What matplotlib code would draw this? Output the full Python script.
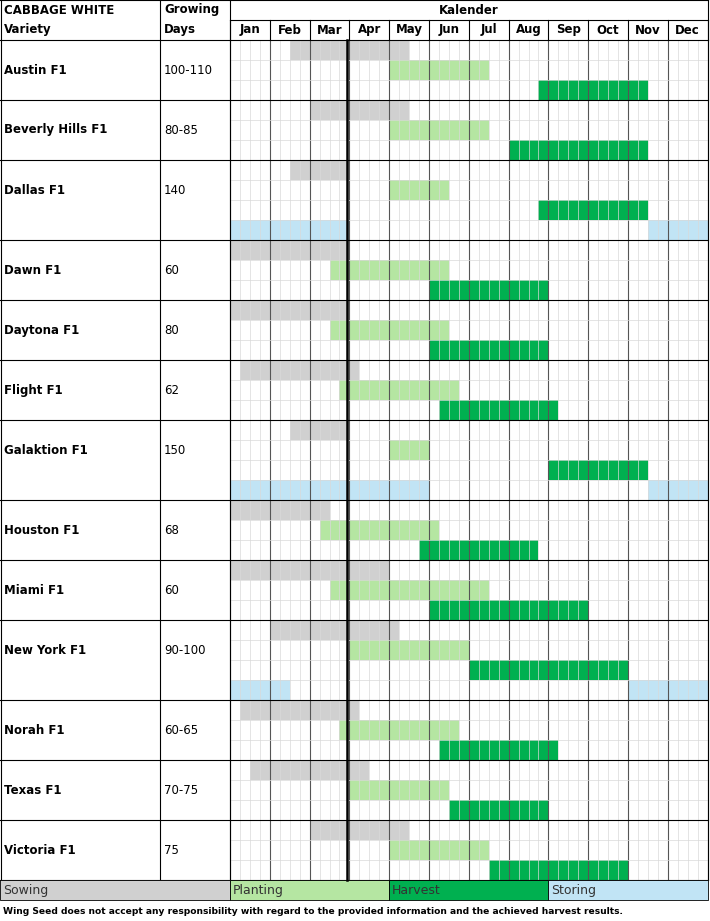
import matplotlib
matplotlib.use("Agg")
import matplotlib.pyplot as plt
from matplotlib.patches import Rectangle

months = ["Jan","Feb","Mar","Apr","May","Jun","Jul","Aug","Sep","Oct","Nov","Dec"]
varieties = ["Austin F1","Beverly Hills F1","Dallas F1","Dawn F1","Daytona F1","Flight F1",
             "Galaktion F1","Houston F1","Miami F1","New York F1","Norah F1","Texas F1","Victoria F1"]
growing_days = ["100-110","80-85","140","60","80","62","150","68","60","90-100","60-65","70-75","75"]
# week indices (0..48), [start, end)
sowing   = [(6,18),(8,18),(6,12),(0,12),(0,12),(1,13),(6,12),(0,10),(0,16),(4,17),(1,13),(2,14),(8,18)]
planting = [(16,26),(16,26),(16,22),(10,22),(10,22),(11,23),(16,20),(9,21),(10,26),(12,24),(11,23),(12,22),(16,26)]
harvest  = [(31,42),(28,42),(31,42),(20,32),(20,32),(21,33),(32,42),(19,31),(20,36),(24,40),(21,33),(22,32),(26,40)]
storing  = [[],[],[(0,12),(42,48)],[],[],[],[(0,20),(42,48)],[],[],[(0,6),(40,48)],[],[],[]]

C_SOW, C_PLANT, C_HARV, C_STORE = "#d0d0d0", "#b5e6a2", "#00b050", "#c1e4f5"

W, H = 710, 921
fig = plt.figure(figsize=(W/100, H/100), dpi=100)
ax = fig.add_axes([0, 0, 1, 1])
ax.set_xlim(0, W); ax.set_ylim(H, 0); ax.axis("off")

X0, WK = 230, 9.95
RH = 20
def wx(w): return X0 + w*WK
XEND = wx(48)

# row layout
tops = []
y = 40
for s in storing:
    tops.append(y)
    y += RH*(4 if s else 3)
body_end = y  # 880

def bar(w0, w1, y0, color):
    ax.add_patch(Rectangle((wx(w0), y0), wx(w1)-wx(w0), RH, fc=color, ec="none", zorder=1))

for i in range(len(varieties)):
    t = tops[i]
    bar(*sowing[i], t, C_SOW)
    bar(*planting[i], t+RH, C_PLANT)
    bar(*harvest[i], t+2*RH, C_HARV)
    for s in storing[i]:
        bar(*s, t+3*RH, C_STORE)
    ax.text(4, t+RH*1.5, varieties[i], fontsize=8.5, fontweight="bold", va="center", ha="left")
    ax.text(164, t+RH*1.5, growing_days[i], fontsize=8.5, va="center", ha="left")

# grid: week lines
for w in range(49):
    lw, c = (0.5, "#d9d9d9") if w % 4 else (0.8, "#555555")
    ax.plot([wx(w), wx(w)], [40, body_end], color=c, lw=lw, zorder=2)
# month header lines
for m in range(13):
    ax.plot([wx(4*m), wx(4*m)], [20, 40], color="black", lw=0.8, zorder=3)
# horizontal sub-row lines
for i, t in enumerate(tops):
    n = 4 if storing[i] else 3
    for k in range(1, n):
        ax.plot([X0, XEND], [t+k*RH]*2, color="#d9d9d9", lw=0.5, zorder=2)
    ax.plot([0, XEND], [t, t], color="black", lw=0.8, zorder=3)
ax.plot([0, XEND], [body_end]*2, color="black", lw=0.8, zorder=3)
ax.plot([X0, XEND], [20, 20], color="black", lw=0.8, zorder=3)
ax.plot([0, XEND], [0.5, 0.5], color="black", lw=0.8, zorder=3)
for x in [0.5, 160, X0, XEND]:
    ax.plot([x, x], [0, body_end], color="black", lw=0.8, zorder=3)
# thick marker line
ax.plot([wx(12)-2, wx(12)-2], [40, body_end], color="black", lw=1.8, zorder=4)

# header text
ax.text(4, 10, "CABBAGE WHITE", fontsize=8.5, fontweight="bold", va="center")
ax.text(4, 30, "Variety", fontsize=8.5, fontweight="bold", va="center")
ax.text(164, 10, "Growing", fontsize=8.5, fontweight="bold", va="center")
ax.text(164, 30, "Days", fontsize=8.5, fontweight="bold", va="center")
ax.text((X0+XEND)/2, 10, "Kalender", fontsize=8.5, fontweight="bold", va="center", ha="center")
for m, name in enumerate(months):
    ax.text(wx(4*m+2), 30, name, fontsize=8.5, fontweight="bold", va="center", ha="center")

# legend row
legend = [("Sowing", 0, X0, C_SOW), ("Planting", X0, wx(16), C_PLANT),
          ("Harvest", wx(16), wx(32), C_HARV), ("Storing", wx(32), XEND, C_STORE)]
for name, a, b, c in legend:
    ax.add_patch(Rectangle((a, body_end), b-a, RH, fc=c, ec="black", lw=0.6, zorder=3))
    ax.text(a+3, body_end+RH/2, name, fontsize=9, va="center", ha="left", color="#333333", zorder=4)

ax.text(3, 911, "Wing Seed does not accept any responsibility with regard to the provided information and the achieved harvest results.",
        fontsize=6.6, fontweight="bold", va="center")

fig.savefig("out.png", dpi=100)
